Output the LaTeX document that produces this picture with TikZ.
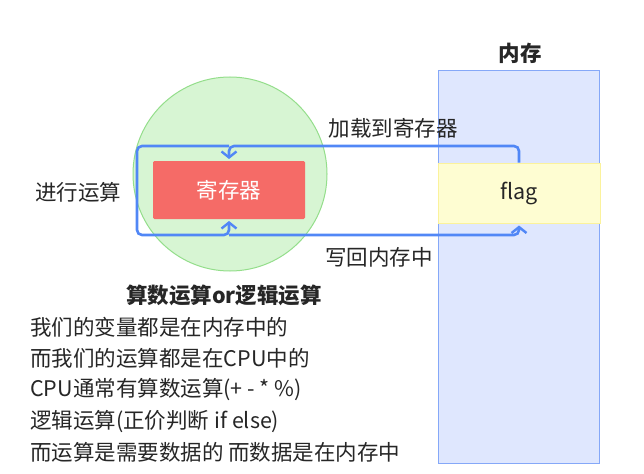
\documentclass[tikz,border=0pt]{standalone}
\usepackage{fontspec}
\setmainfont{Noto Sans CJK SC}
\usetikzlibrary{arrows.meta}
\definecolor{memfill}{HTML}{DFE7FE}
\definecolor{memdraw}{HTML}{85A8F8}
\definecolor{flagfill}{HTML}{FEFDD2}
\definecolor{flagdraw}{HTML}{FBF29C}
\definecolor{cpufill}{HTML}{D7F5D3}
\definecolor{cpudraw}{HTML}{94DE8B}
\definecolor{regfill}{HTML}{F56B67}
\definecolor{wire}{HTML}{5187F6}
\definecolor{ink}{HTML}{262626}
\begin{document}
\begin{tikzpicture}[x=1pt,y=-1pt,
  font=\fontsize{21.5}{25}\selectfont, text=ink,
  box/.style={draw, inner sep=0pt, line width=1pt},
  wirestyle/.style={draw=wire, line width=2.6pt, rounded corners=5pt},
  tipped/.style={-{Straight Barb[length=6pt,width=15pt,line width=2.4pt]}, shorten >=2pt},
  lbl/.style={inner sep=0pt}]
\useasboundingbox (0,0) rectangle (644,473);
% memory
\node[box, draw=memdraw, fill=memfill, line width=1.3pt, minimum width=161pt, minimum height=393pt, anchor=north west] (mem) at (438,70) {};
\node[lbl, font=\fontsize{21.5}{25}\selectfont\bfseries] (memtitle) at (520,53) {内存};
\node[box, draw=flagdraw, fill=flagfill, minimum width=162pt, minimum height=60pt] (flag) at (519,193) {flag};
% cpu
\node[circle, draw=cpudraw, fill=cpufill, line width=1pt, minimum size=194pt, inner sep=0pt] (cpu) at (230,174) {};
\node[box, draw=regfill, fill=regfill, rounded corners=1pt, minimum width=151pt, minimum height=57pt, text=white] (reg) at (229,190) {寄存器};
% wires
\coordinate (topy) at (0,146);
\coordinate (boty) at (0,235);
\coordinate (leftx) at (137,0);
\draw[wirestyle, tipped] (flag.north) |- (reg.north |- topy) -- (reg.north);
\draw[wirestyle, tipped] (reg.north |- topy) -- (leftx |- topy) -- (leftx |- boty) -- (reg.south |- boty) -- (reg.south);
\draw[wirestyle, tipped] (reg.south |- boty) -| (flag.south);
% labels
\node[lbl] (load) at (393,128) {加载到寄存器};
\node[lbl] (write) at (379,257) {写回内存中};
\node[lbl] (calc) at (78,192) {进行运算};
% text block
\node[lbl, font=\fontsize{21.5}{25}\selectfont\bfseries] (title) at (224,295) {算数运算or逻辑运算};
\node[lbl, anchor=west] (l1) at (30,327) {我们的变量都是在内存中的};
\node[lbl, anchor=west] (l2) at (30,358) {而我们的运算都是在CPU中的};
\node[lbl, anchor=west] (l3) at (30,390) {CPU通常有算数运算(+ - * \%)};
\node[lbl, anchor=west] (l4) at (30,422) {逻辑运算(正价判断 if else)};
\node[lbl, anchor=west] (l5) at (30,452) {而运算是需要数据的 而数据是在内存中};
\end{tikzpicture}
\end{document}
